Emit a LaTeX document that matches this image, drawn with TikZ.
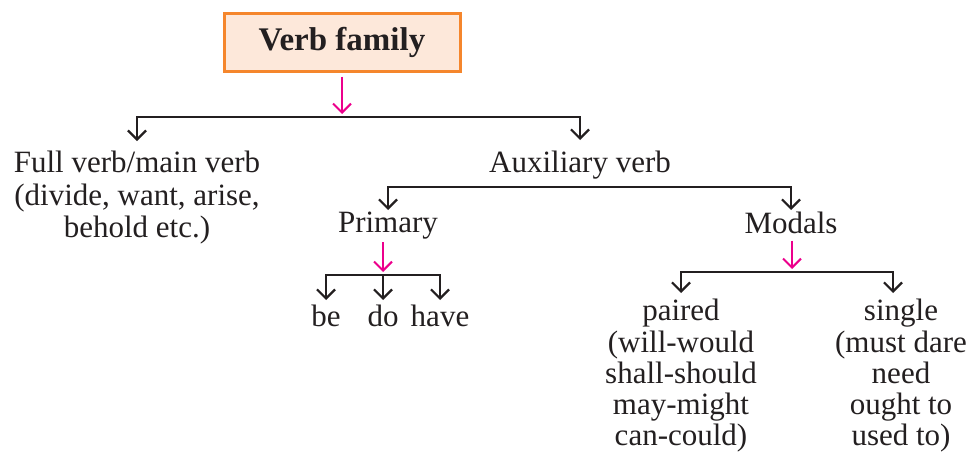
\documentclass[tikz,border=0pt]{standalone}
\usepackage{fontspec}
\setmainfont{Liberation Serif}
\usetikzlibrary{arrows.meta}
\definecolor{famfill}{HTML}{FDE8DA}
\definecolor{famborder}{HTML}{F5862C}
\definecolor{pinkarr}{HTML}{EC008C}
\definecolor{inkgray}{HTML}{231F20}

\begin{document}
\begin{tikzpicture}[x=0.5pt, y=-0.5pt]
  % Define styles
  \tikzset{
    family/.style={draw=famborder, line width=1.5pt, fill=famfill, minimum width=118pt, minimum height=29pt, font=\fontsize{16.5}{18}\selectfont\bfseries, text=inkgray},
    word/.style={font=\fontsize{15.5}{16.25}\selectfont, text=inkgray, align=center, inner xsep=0pt, inner ysep=1pt, anchor=north},
    branch/.style={-{Straight Barb[length=4.5pt, width=9pt]}, line width=1.1pt, draw=inkgray},
    pointer/.style={-{Straight Barb[length=4.5pt, width=9pt]}, line width=1pt, draw=pinkarr}
  }
  \useasboundingbox (0,0) rectangle (975,455);

  % Top box
  \node[family] (vf) at (342,42) {Verb family};

  % First level
  \coordinate (bar1) at (342,117);
  \node[word, inner ysep=5pt] (full) at (137,141) {Full verb/main verb\\(divide, want, arise,\\behold etc.)};
  \node[word, inner ysep=5.5pt] (aux) at (580,140) {Auxiliary verb};
  \draw[pointer, shorten <=2pt, shorten >=1.5pt] (vf.south) -- (bar1);
  \draw[branch] (bar1) -| (full.north);
  \draw[branch] (bar1) -| (aux.north);

  % Second level
  \coordinate (bar2) at (588,187);
  \node[word] (prim) at (388,210) {Primary};
  \node[word] (mod) at (791,210) {Modals};
  \draw[branch] (bar2) -| (prim.north);
  \draw[branch] (bar2) -| (mod.north);

  % Primary verbs
  \coordinate (bar3) at (383,275);
  \node[word, inner ysep=2.5pt] (be) at (326,300) {be};
  \node[word, inner ysep=2.5pt] (do) at (383,300) {do};
  \node[word, inner ysep=2.5pt] (have) at (440,300) {have};
  \draw[pointer, shorten >=1.5pt] (bar3 |- prim.south) -- (bar3);
  \foreach \v in {be,do,have}
    \draw[branch] (bar3) -| (\v.north);

  % Modal verbs
  \coordinate (bar4) at (792,272);
  \node[word, inner ysep=3pt, font=\fontsize{15.5}{15.6}\selectfont] (paired) at (681,293) {paired\\(will-would\\shall-should\\may-might\\can-could)};
  \node[word, inner ysep=3pt, font=\fontsize{15.5}{15.6}\selectfont] (single) at (901,293) {single\\(must dare\\need\\ought to\\used to)};
  \draw[pointer, shorten <=2pt, shorten >=1.5pt] (bar4 |- mod.south) -- (bar4);
  \draw[branch] (bar4) -| (paired.north);
  \draw[branch] (bar4) -| ([xshift=-4pt]single.north);
\end{tikzpicture}
\end{document}
